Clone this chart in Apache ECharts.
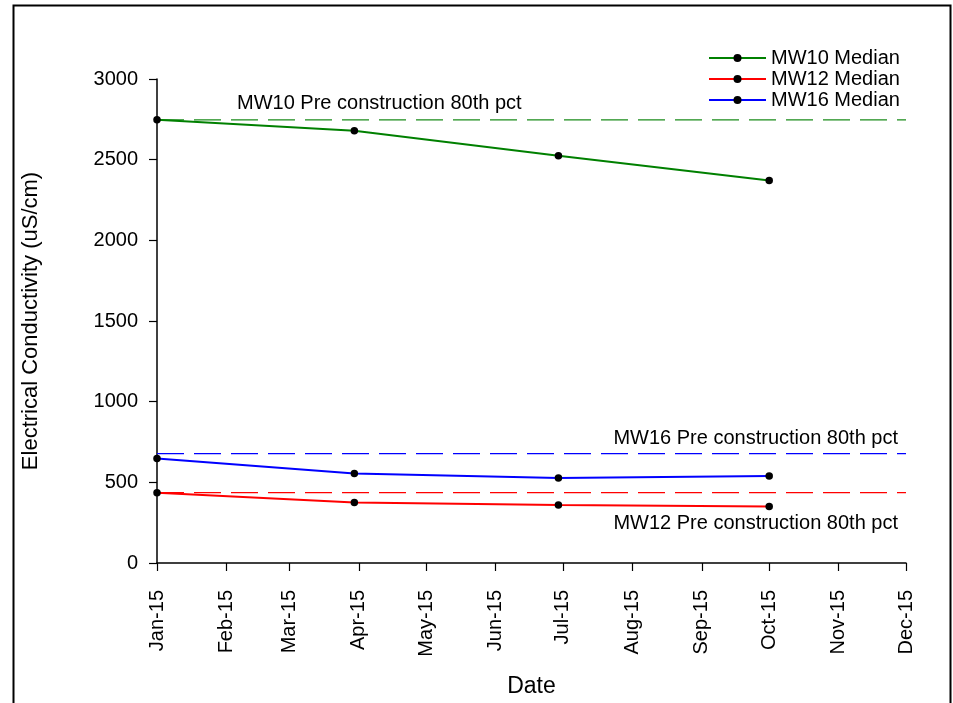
<!DOCTYPE html>
<html>
<head>
<meta charset="utf-8">
<script src="https://cdn.jsdelivr.net/npm/echarts@6/dist/echarts.min.js"></script>
<style>
html,body{margin:0;padding:0;background:#fff;}
#c{width:953px;height:703px;}
</style>
</head>
<body>
<div id="c"></div>
<script>
// Data
var sampleDates = ['2015-01-01', '2015-03-30', '2015-06-29', '2015-10-01'];
var mw10Median = [2747, 2679, 2524, 2371];
var mw12Median = [436, 375, 360, 350];
var mw16Median = [647, 554, 527, 540];
var refDates = ['2015-01-01', '2015-12-01'];
var mw10Pre80 = 2747;
var mw12Pre80 = 436;
var mw16Pre80 = 678;
var monthNames = ['Jan','Feb','Mar','Apr','May','Jun','Jul','Aug','Sep','Oct','Nov','Dec'];
var yTicks = {min: 0, max: 3000, interval: 500};

var FONT = '"Liberation Sans", Arial, sans-serif';

function pairs(dates, vals) {
  return dates.map(function (d, i) { return [d, vals[i]]; });
}
function flat(dates, v) {
  return dates.map(function (d) { return [d, v]; });
}

var chart = echarts.init(document.getElementById('c'), null, {renderer: 'canvas'});

var dashStyle = function (c) {
  return {color: c, width: 1.3, type: [27, 10]};
};

var option = {
  backgroundColor: '#fff',
  animation: false,
  textStyle: {fontFamily: FONT},
  grid: {left: 157, right: 47, top: 79, bottom: 139, containLabel: false},
  legend: {
    data: ['MW10 Median', 'MW12 Median', 'MW16 Median'],
    orient: 'vertical',
    left: 708,
    top: 48,
    padding: 0,
    itemWidth: 57,
    itemHeight: 10,
    itemGap: 1,
    textStyle: {fontFamily: FONT, fontSize: 20, lineHeight: 20, color: '#000'}
  },
  xAxis: {
    type: 'time',
    min: '2015-01-01',
    max: '2015-12-01',
    minInterval: 28 * 86400000,
    maxInterval: 31 * 86400000,
    name: 'Date',
    nameLocation: 'middle',
    nameGap: 112,
    nameTextStyle: {fontFamily: FONT, fontSize: 23, color: '#000'},
    axisLine: {lineStyle: {color: '#000', width: 1.5}},
    axisTick: {show: true, inside: false, length: 8, lineStyle: {color: '#000', width: 1.2}},
    splitLine: {show: false},
    axisLabel: {
      rotate: 90,
      fontFamily: FONT,
      fontSize: 20,
      color: '#000',
      margin: 27,
      showMinLabel: true,
      showMaxLabel: true,
      hideOverlap: false,
      formatter: function (v) {
        var d = new Date(v);
        return monthNames[d.getMonth()] + '-' + String(d.getFullYear()).slice(2);
      }
    }
  },
  yAxis: {
    type: 'value',
    min: yTicks.min,
    max: yTicks.max,
    interval: yTicks.interval,
    name: 'Electrical Conductivity (uS/cm)',
    nameLocation: 'middle',
    nameGap: 115,
    nameTextStyle: {fontFamily: FONT, fontSize: 22, color: '#000'},
    axisLine: {show: true, lineStyle: {color: '#000', width: 1.5}},
    axisTick: {show: true, inside: false, length: 8, lineStyle: {color: '#000', width: 1.2}},
    splitLine: {show: false},
    axisLabel: {fontFamily: FONT, fontSize: 20, color: '#000', margin: 19,
      formatter: function (v) { return String(v); }}
  },
  series: [
    {
      name: 'MW10 Pre construction 80th pct', type: 'line', data: flat(refDates, mw10Pre80),
      showSymbol: false, symbol: 'none', lineStyle: dashStyle('#1a8c1a'), z: 1, silent: true
    },
    {
      name: 'MW16 Pre construction 80th pct', type: 'line', data: flat(refDates, mw16Pre80),
      showSymbol: false, symbol: 'none', lineStyle: dashStyle('#0000ff'), z: 1, silent: true
    },
    {
      name: 'MW12 Pre construction 80th pct', type: 'line', data: flat(refDates, mw12Pre80),
      showSymbol: false, symbol: 'none', lineStyle: dashStyle('#ff0000'), z: 1, silent: true
    },
    {
      name: 'MW10 Median', type: 'line', data: pairs(sampleDates, mw10Median),
      symbol: 'circle', symbolSize: 7.5, showSymbol: true,
      lineStyle: {color: '#008000', width: 2}, itemStyle: {color: '#000'}, z: 3
    },
    {
      name: 'MW12 Median', type: 'line', data: pairs(sampleDates, mw12Median),
      symbol: 'circle', symbolSize: 7.5, showSymbol: true,
      lineStyle: {color: '#ff0000', width: 2}, itemStyle: {color: '#000'}, z: 3
    },
    {
      name: 'MW16 Median', type: 'line', data: pairs(sampleDates, mw16Median),
      symbol: 'circle', symbolSize: 7.5, showSymbol: true,
      lineStyle: {color: '#0000ff', width: 2}, itemStyle: {color: '#000'}, z: 3
    }
  ]
};
chart.setOption(option);

// Reference line labels, placed relative to their lines
var y10 = chart.convertToPixel({xAxisIndex: 0, yAxisIndex: 0}, [refDates[0], mw10Pre80])[1];
var y16 = chart.convertToPixel({xAxisIndex: 0, yAxisIndex: 0}, [refDates[0], mw16Pre80])[1];
var y12 = chart.convertToPixel({xAxisIndex: 0, yAxisIndex: 0}, [refDates[0], mw12Pre80])[1];
var tStyle = function (txt, align) {
  return {text: txt, font: '20px ' + FONT, fill: '#000', textAlign: align, textVerticalAlign: 'middle'};
};
chart.setOption({
  graphic: [
    {type: 'rect', left: 11, top: 3, shape: {width: 937, height: 760}, style: {fill: 'none', stroke: '#000', lineWidth: 2}, silent: true, z: 100},
    {type: 'text', x: 237, y: y10 - 16, style: tStyle('MW10 Pre construction 80th pct', 'left'), z: 100},
    {type: 'text', x: 898, y: y16 - 15, style: tStyle('MW16 Pre construction 80th pct', 'right'), z: 100},
    {type: 'text', x: 898, y: y12 + 31, style: tStyle('MW12 Pre construction 80th pct', 'right'), z: 100}
  ]
});
</script>
</body>
</html>
